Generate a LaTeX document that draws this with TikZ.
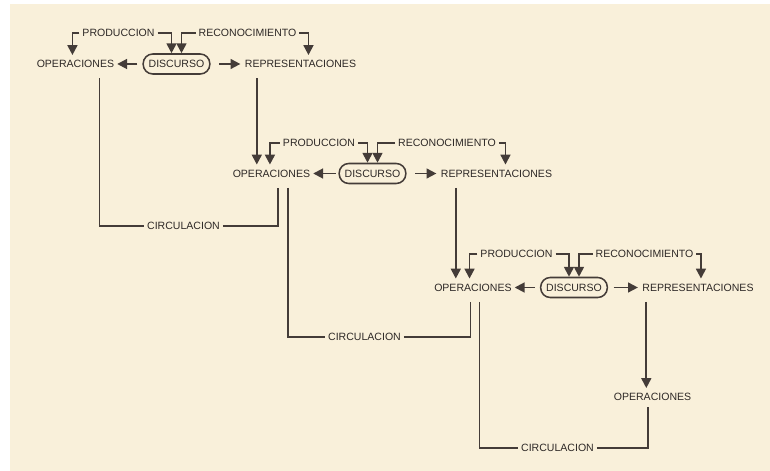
\documentclass[tikz,border=0pt]{standalone}
\usepackage{fontspec}
\setmainfont{Liberation Sans}
\usepackage{tikz}
\usetikzlibrary{arrows.meta, positioning, calc}
\definecolor{paper}{RGB}{249,240,218}
\definecolor{ink}{RGB}{68,60,56}
\definecolor{letter}{RGB}{45,40,38}

\begin{document}
\begin{tikzpicture}[x=0.025cm, y=-0.025cm, font=\fontsize{7.5}{9}\selectfont]

\tikzstyle{word} = [inner sep=2pt, text=letter]
\tikzstyle{disc} = [rectangle, rounded corners=0.24cm, minimum height=0.5cm, inner xsep=3.9pt, draw=ink, line width=1.1pt, text=letter]
\tikzstyle{wire} = [draw=ink, line width=1.3pt]
\tikzstyle{arrow} = [wire, -{Triangle[length=7pt,width=7pt]}]

% paper
\fill[white] (0,0) rectangle (770,471);
\fill[paper] (10,4) rectangle (770,471);
\useasboundingbox (0,0) rectangle (770,471);

% lvl 1
\node (disc1)[disc] at (176.5,64) {DISCURSO};
\node (ops1)[word, left=0.63cm of disc1] {OPERACIONES};
\node (rep1)[word, right=0.78cm of disc1] {REPRESENTACIONES};
\node (prod1)[word] at (118.5,33) {PRODUCCION};
\node (reco1)[word] at (247.5,33) {RECONOCIMIENTO};

% lvl 2
\node (disc2)[disc] at (372.5,173.5) {DISCURSO};
\node (ops2)[word, left=0.63cm of disc2] {OPERACIONES};
\node (rep2)[word, right=0.78cm of disc2] {REPRESENTACIONES};
\node (prod2)[word] at (319,143) {PRODUCCION};
\node (reco2)[word] at (447,143) {RECONOCIMIENTO};

% lvl 3
\node (disc3)[disc] at (574,287.5) {DISCURSO};
\node (ops3)[word, left=0.63cm of disc3] {OPERACIONES};
\node (rep3)[word, right=0.78cm of disc3] {REPRESENTACIONES};
\node (prod3)[word] at (516.5,254) {PRODUCCION};
\node (reco3)[word] at (644.5,254) {RECONOCIMIENTO};
\node (ops4)[word] at (652.5,397) {OPERACIONES};

% circulacion
\node (circ1)[word] at (183.5,226) {CIRCULACION};
\node (circ2)[word] at (364.5,337) {CIRCULACION};
\node (circ3)[word] at (557.5,448) {CIRCULACION};

% arrows lvl 1
\draw[arrow, shorten <=3.5pt] (disc1) -- (ops1);
\draw[arrow, shorten <=6pt, shorten >=1pt] (disc1) -- (rep1);
\draw[arrow, shorten >=1.5pt] (prod1.west) -| ($(ops1.north)+(-3,0)$);
\draw[arrow] (prod1.east) -| ($(disc1.north)+(-5,0)$);
\draw[arrow] (reco1.west) -| ($(disc1.north)+(5,0)$);
\draw[arrow, shorten >=1.5pt] (reco1.east) -| ($(rep1.north)+(8,0)$);

% arrows lvl 2
\draw[arrow, shorten <=2pt] (disc2) -- (ops2);
\draw[arrow, shorten <=6pt, shorten >=1pt] (disc2) -- (rep2);
\draw[arrow, shorten >=1.5pt] (prod2.west) -| ($(ops2.north)+(-1.5,0)$);
\draw[arrow] (prod2.east) -| ($(disc2.north)+(-5,0)$);
\draw[arrow] (reco2.west) -| ($(disc2.north)+(5,0)$);
\draw[arrow, shorten >=1.5pt] (reco2.east) -| ($(rep2.north)+(9,0)$);

% arrows lvl 3
\draw[arrow, shorten <=3.5pt] (disc3) -- (ops3);
\draw[arrow, shorten <=4pt, shorten >=1pt] (disc3) -- (rep3);
\draw[arrow, shorten >=1.5pt] (prod3.west) -| ($(ops3.north)+(-3.4,0)$);
\draw[arrow] (prod3.east) -| ($(disc3.north)+(-5,0)$);
\draw[arrow] (reco3.west) -| ($(disc3.north)+(5,0)$);
\draw[arrow, shorten >=1.5pt] (reco3.east) -| ($(rep3.north)+(3,0)$);

% representaciones down to next operaciones
\coordinate (r1) at ($(rep1.south west)+(15,7.5)$);
\coordinate (r2) at ($(rep2.south west)+(18,7.5)$);
\coordinate (r3) at ($(rep3.south west)+(7,7.5)$);
\draw[arrow, shorten >=1.5pt] (r1) -- (r1 |- ops2.north);
\draw[arrow, shorten >=1.5pt] (r2) -- (r2 |- ops3.north);
\draw[arrow, shorten >=1.5pt] (r3) -- (r3 |- ops4.north);

% circulacion lines
\coordinate (o1) at ($(ops1.south)+(24,7.5)$);
\coordinate (o2a) at ($(ops2.south)+(6.6,7.5)$);
\coordinate (o2b) at ($(ops2.south)+(16.6,7.5)$);
\coordinate (o3a) at ($(ops3.south)+(-2.4,7.5)$);
\coordinate (o3b) at ($(ops3.south)+(6.6,7.5)$);
\coordinate (o4) at ($(ops4.south)+(-4.5,3.5)$);
\draw[wire] (o1) |- (circ1.west);
\draw[wire] (circ1.east) -| (o2a);
\draw[wire] (o2b) |- (circ2.west);
\draw[wire] (circ2.east) -| (o3a);
\draw[wire] (o3b) |- (circ3.west);
\draw[wire] (circ3.east) -| (o4);

\end{tikzpicture}
\end{document}
